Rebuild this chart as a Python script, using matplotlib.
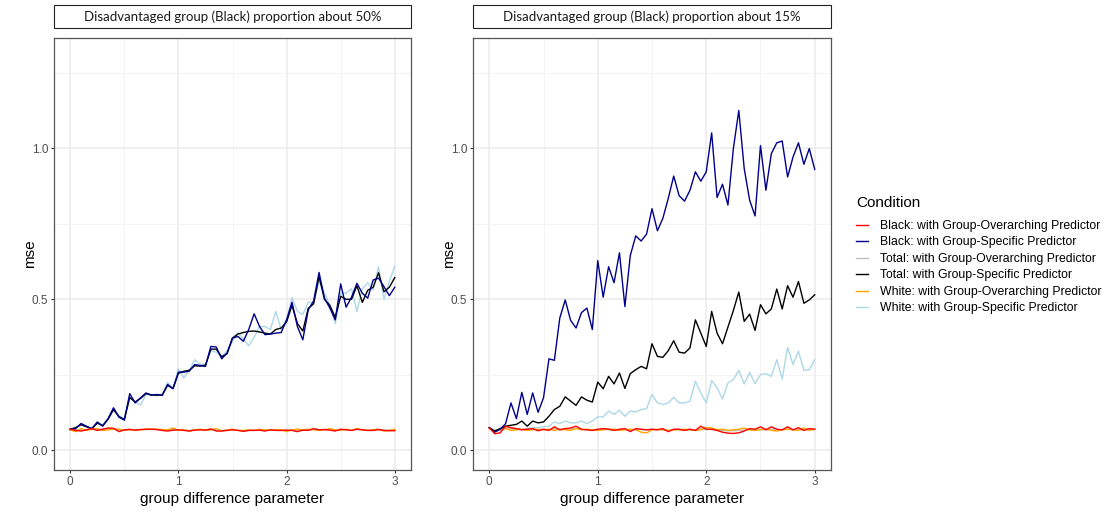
import matplotlib
matplotlib.use("Agg")
import matplotlib.pyplot as plt
from matplotlib.patches import Rectangle
from matplotlib.lines import Line2D
import numpy as np

plt.rcParams['font.family'] = ['Liberation Sans', 'DejaVu Sans']

# group difference parameter grid (0 to 3 by 0.05)
param = np.round(np.arange(61) * 0.05, 2)

# ---- panel 1: Black proportion about 50% ----
p50_black_overarch = [
    0.070, 0.066, 0.064, 0.068, 0.072, 0.066, 0.070, 0.074, 0.073, 0.062,
    0.068, 0.069, 0.067, 0.069, 0.070, 0.070, 0.069, 0.066, 0.064, 0.067,
    0.068, 0.066, 0.064, 0.067, 0.068, 0.067, 0.071, 0.064, 0.064, 0.066,
    0.068, 0.066, 0.063, 0.066, 0.066, 0.067, 0.064, 0.068, 0.066, 0.066,
    0.067, 0.066, 0.062, 0.067, 0.066, 0.072, 0.068, 0.069, 0.067, 0.064,
    0.070, 0.068, 0.066, 0.070, 0.068, 0.066, 0.066, 0.069, 0.066, 0.065,
    0.065]
p50_black_specific = [
    0.069, 0.072, 0.089, 0.080, 0.072, 0.094, 0.080, 0.105, 0.141, 0.110,
    0.100, 0.188, 0.157, 0.174, 0.190, 0.183, 0.185, 0.182, 0.218, 0.204,
    0.259, 0.259, 0.262, 0.284, 0.281, 0.278, 0.344, 0.342, 0.303, 0.322,
    0.372, 0.377, 0.361, 0.400, 0.452, 0.410, 0.383, 0.385, 0.388, 0.390,
    0.432, 0.490, 0.410, 0.366, 0.465, 0.495, 0.589, 0.504, 0.471, 0.432,
    0.551, 0.474, 0.507, 0.553, 0.520, 0.504, 0.564, 0.570, 0.542, 0.512,
    0.540]
p50_total_overarch = [
    0.069, 0.068, 0.067, 0.069, 0.070, 0.068, 0.070, 0.071, 0.071, 0.066,
    0.068, 0.068, 0.068, 0.068, 0.069, 0.069, 0.069, 0.067, 0.066, 0.068,
    0.067, 0.067, 0.066, 0.068, 0.068, 0.068, 0.069, 0.066, 0.066, 0.067,
    0.068, 0.067, 0.065, 0.066, 0.067, 0.067, 0.066, 0.068, 0.067, 0.066,
    0.067, 0.067, 0.065, 0.068, 0.067, 0.070, 0.068, 0.068, 0.067, 0.066,
    0.069, 0.068, 0.067, 0.069, 0.068, 0.067, 0.067, 0.068, 0.067, 0.067,
    0.068]
p50_total_specific = [
    0.070, 0.075, 0.085, 0.078, 0.072, 0.090, 0.082, 0.103, 0.135, 0.112,
    0.102, 0.175, 0.160, 0.172, 0.188, 0.183, 0.183, 0.183, 0.215, 0.205,
    0.255, 0.262, 0.265, 0.280, 0.279, 0.282, 0.335, 0.335, 0.310, 0.320,
    0.372, 0.385, 0.390, 0.394, 0.395, 0.392, 0.388, 0.385, 0.400, 0.405,
    0.425, 0.480, 0.420, 0.395, 0.470, 0.485, 0.575, 0.500, 0.480, 0.440,
    0.510, 0.500, 0.500, 0.545, 0.490, 0.530, 0.540, 0.588, 0.525, 0.540,
    0.572]
p50_white_overarch = [
    0.068, 0.062, 0.072, 0.066, 0.070, 0.072, 0.066, 0.068, 0.070, 0.070,
    0.066, 0.070, 0.066, 0.068, 0.070, 0.070, 0.070, 0.069, 0.068, 0.074,
    0.066, 0.068, 0.064, 0.068, 0.070, 0.066, 0.068, 0.072, 0.064, 0.068,
    0.070, 0.066, 0.066, 0.068, 0.066, 0.070, 0.068, 0.066, 0.068, 0.068,
    0.062, 0.068, 0.070, 0.068, 0.070, 0.068, 0.066, 0.068, 0.072, 0.068,
    0.066, 0.070, 0.066, 0.072, 0.068, 0.066, 0.068, 0.070, 0.064, 0.066,
    0.070]
p50_white_specific = [
    0.070, 0.075, 0.085, 0.078, 0.072, 0.090, 0.085, 0.105, 0.135, 0.115,
    0.105, 0.175, 0.160, 0.150, 0.185, 0.185, 0.180, 0.185, 0.225, 0.205,
    0.270, 0.240, 0.265, 0.300, 0.285, 0.285, 0.330, 0.325, 0.310, 0.330,
    0.360, 0.390, 0.370, 0.346, 0.375, 0.410, 0.410, 0.400, 0.460, 0.400,
    0.435, 0.505, 0.460, 0.450, 0.490, 0.490, 0.560, 0.520, 0.480, 0.420,
    0.520, 0.520, 0.535, 0.460, 0.535, 0.555, 0.530, 0.608, 0.500, 0.560,
    0.610]

# ---- panel 2: Black proportion about 15% ----
p15_black_overarch = [
    0.075, 0.055, 0.058, 0.080, 0.075, 0.072, 0.068, 0.070, 0.072, 0.065,
    0.070, 0.066, 0.078, 0.068, 0.072, 0.074, 0.080, 0.070, 0.068, 0.066,
    0.070, 0.072, 0.070, 0.066, 0.070, 0.072, 0.062, 0.072, 0.070, 0.068,
    0.070, 0.068, 0.072, 0.062, 0.070, 0.070, 0.066, 0.070, 0.066, 0.080,
    0.070, 0.070, 0.066, 0.060, 0.057, 0.056, 0.058, 0.064, 0.072, 0.070,
    0.078, 0.068, 0.078, 0.070, 0.068, 0.078, 0.068, 0.075, 0.066, 0.072,
    0.070]
p15_black_specific = [
    0.075, 0.060, 0.070, 0.088, 0.157, 0.105, 0.192, 0.119, 0.190, 0.126,
    0.174, 0.303, 0.298, 0.438, 0.498, 0.430, 0.405, 0.456, 0.471, 0.400,
    0.628, 0.507, 0.608, 0.555, 0.654, 0.476, 0.645, 0.710, 0.693, 0.716,
    0.800, 0.727, 0.768, 0.834, 0.908, 0.843, 0.825, 0.861, 0.922, 0.891,
    0.922, 1.051, 0.837, 0.881, 0.812, 0.999, 1.125, 0.933, 0.828, 0.776,
    1.009, 0.861, 0.982, 1.018, 1.024, 0.905, 0.971, 1.018, 0.947, 0.999,
    0.930]
p15_total_overarch = [
    0.073, 0.066, 0.066, 0.074, 0.072, 0.070, 0.069, 0.070, 0.071, 0.067,
    0.069, 0.068, 0.072, 0.068, 0.070, 0.071, 0.073, 0.069, 0.068, 0.068,
    0.069, 0.070, 0.069, 0.067, 0.069, 0.070, 0.066, 0.069, 0.069, 0.068,
    0.069, 0.068, 0.069, 0.066, 0.069, 0.069, 0.067, 0.069, 0.067, 0.072,
    0.069, 0.069, 0.068, 0.066, 0.065, 0.065, 0.066, 0.067, 0.069, 0.069,
    0.071, 0.068, 0.071, 0.069, 0.068, 0.071, 0.068, 0.070, 0.067, 0.069,
    0.069]
p15_total_specific = [
    0.075, 0.064, 0.072, 0.080, 0.083, 0.086, 0.097, 0.080, 0.097, 0.091,
    0.094, 0.113, 0.135, 0.146, 0.177, 0.163, 0.149, 0.177, 0.166, 0.160,
    0.226, 0.204, 0.245, 0.220, 0.256, 0.205, 0.254, 0.267, 0.278, 0.270,
    0.353, 0.311, 0.308, 0.330, 0.363, 0.325, 0.322, 0.339, 0.432, 0.388,
    0.344, 0.460, 0.388, 0.353, 0.408, 0.463, 0.524, 0.427, 0.451, 0.397,
    0.482, 0.452, 0.468, 0.534, 0.468, 0.545, 0.507, 0.559, 0.487, 0.498,
    0.515]
p15_white_overarch = [
    0.072, 0.064, 0.068, 0.072, 0.066, 0.068, 0.070, 0.066, 0.068, 0.070,
    0.068, 0.070, 0.066, 0.070, 0.068, 0.066, 0.072, 0.068, 0.070, 0.068,
    0.066, 0.068, 0.070, 0.070, 0.066, 0.068, 0.070, 0.068, 0.060, 0.058,
    0.068, 0.070, 0.068, 0.066, 0.068, 0.068, 0.070, 0.068, 0.066, 0.068,
    0.076, 0.074, 0.068, 0.070, 0.066, 0.068, 0.070, 0.074, 0.068, 0.066,
    0.068, 0.070, 0.066, 0.064, 0.068, 0.070, 0.068, 0.066, 0.074, 0.066,
    0.070]
p15_white_specific = [
    0.075, 0.064, 0.072, 0.080, 0.072, 0.072, 0.069, 0.072, 0.075, 0.075,
    0.078, 0.080, 0.094, 0.089, 0.097, 0.091, 0.091, 0.097, 0.089, 0.097,
    0.111, 0.111, 0.130, 0.119, 0.133, 0.113, 0.130, 0.127, 0.135, 0.138,
    0.185, 0.157, 0.152, 0.157, 0.176, 0.157, 0.157, 0.163, 0.229, 0.190,
    0.157, 0.231, 0.207, 0.170, 0.223, 0.234, 0.265, 0.220, 0.258, 0.221,
    0.251, 0.254, 0.245, 0.300, 0.236, 0.341, 0.284, 0.328, 0.265, 0.267,
    0.300]

conditions = [
    "Black: with Group-Overarching Predictor",
    "Black: with Group-Specific Predictor",
    "Total: with Group-Overarching Predictor",
    "Total: with Group-Specific Predictor",
    "White: with Group-Overarching Predictor",
    "White: with Group-Specific Predictor",
]
colors = ["#FF0000", "#00008B", "#BEBEBE", "#000000", "#FFA500", "#ADD8E6"]
zorders = [8, 7, 3, 6, 4, 2]

panels = [
    ("Disadvantaged group (Black) proportion about 50%",
     [p50_black_overarch, p50_black_specific, p50_total_overarch,
      p50_total_specific, p50_white_overarch, p50_white_specific]),
    ("Disadvantaged group (Black) proportion about 15%",
     [p15_black_overarch, p15_black_specific, p15_total_overarch,
      p15_total_specific, p15_white_overarch, p15_white_specific]),
]

W, H = 1105, 513
fig = plt.figure(figsize=(W / 100, H / 100), dpi=100)
fig.patch.set_facecolor("white")

# panel boxes in pixels: (left, right, top, bottom)
boxes = [(54, 411, 38, 470), (473, 831, 38, 470)]

for (title, series), (l, r, t, b) in zip(panels, boxes):
    ax = fig.add_axes([l / W, (H - b) / H, (r - l) / W, (b - t) / H])
    for vals, col, lab, z in zip(series, colors, conditions, zorders):
        ax.plot(param, vals, color=col, lw=1.0, label=lab, zorder=z)
    ax.set_xlim(-0.15, 3.15)
    ax.set_ylim(-0.065, 1.365)
    ax.set_xticks([0, 1, 2, 3])
    ax.set_xticklabels(["0", "1", "2", "3"])
    ax.set_xticks([0.5, 1.5, 2.5], minor=True)
    ax.set_yticks([0.0, 0.5, 1.0])
    ax.set_yticklabels(["0.0", "0.5", "1.0"])
    ax.set_yticks([0.25, 0.75, 1.25], minor=True)
    ax.grid(which="major", color="#EBEBEB", lw=1.1, zorder=0)
    ax.grid(which="minor", color="#F2F2F2", lw=0.6, zorder=0)
    ax.set_axisbelow(True)
    ax.tick_params(which="major", length=2.5, width=0.8, color="#333333",
                   labelsize=8.5, labelcolor="#4D4D4D", pad=1.5)
    ax.tick_params(which="minor", length=0)
    for s in ax.spines.values():
        s.set_color("#555555")
        s.set_linewidth(0.9)
    ax.set_xlabel("group difference parameter", fontsize=11, labelpad=3)
    ax.set_ylabel("mse", fontsize=11)
    # y title sits 17 px left of the panel edge
    ax.yaxis.set_label_coords(-17 / (r - l), 0.5)

    # facet strip above the panel
    ph = b - t
    y0 = (b - 28) / ph
    y1 = (b - 5) / ph
    ax.add_patch(Rectangle((0, y0), 1, y1 - y0, transform=ax.transAxes,
                           facecolor="white", edgecolor="#222222", lw=0.8,
                           clip_on=False))
    ax.text(0.5, (y0 + y1) / 2, title, transform=ax.transAxes,
            ha="center", va="center", fontsize=9.5, family="Lato",
            color="#1A1A1A")

fig.text(856 / W, 1 - 203 / H, "Condition", fontsize=11, va="center",
         ha="left")
handles = [Line2D([], [], color=c, lw=1.0) for c in colors]
leg = fig.legend(handles, conditions, loc="upper left",
                 bbox_to_anchor=(851 / W, 1 - 215 / H), frameon=False,
                 fontsize=8.8, handlelength=1.0, handletextpad=1.0,
                 labelspacing=0.37, borderaxespad=0)

fig.savefig("out.png", dpi=100)
